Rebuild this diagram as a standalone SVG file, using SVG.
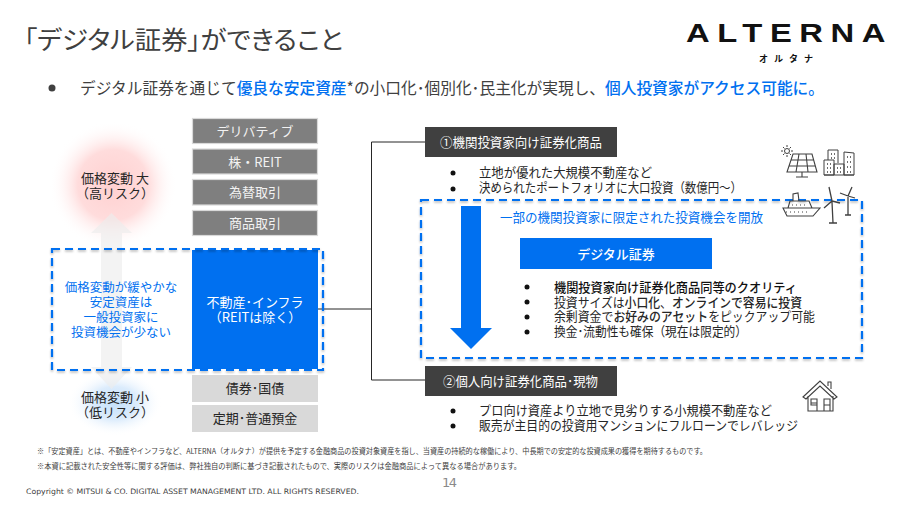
<svg xmlns="http://www.w3.org/2000/svg" width="900" height="506" viewBox="0 0 900 506">
<defs>
<style>
text{font-family:"Noto Sans CJK JP","Noto Sans",sans-serif;fill:#404040;font-size:13px}
.c{text-anchor:middle}
.b{fill:#0070f0}
.d{fill:#262626}
.w{fill:#fff}
.g{fill:#f2f2f2}
.dash{fill:none;stroke:#0070f0;stroke-width:2.2;stroke-dasharray:8 5;filter:url(#sh)}
.gb{fill:#7f7f7f;stroke:#d9d9d9;stroke-width:1.2}
.lb{fill:#d9d9d9}
.hd{fill:#404040}
.ic{fill:none;stroke:#404040;stroke-width:1}
.dot{fill:#111}
.con{fill:none;stroke:#262626;stroke-width:1}
</style>
<radialGradient id="red"><stop offset="0" stop-color="#ffd0d0"/><stop offset="0.55" stop-color="#ffdcdc"/><stop offset="1" stop-color="#fff" stop-opacity="0"/></radialGradient>
<radialGradient id="blue"><stop offset="0" stop-color="#c4e0fa"/><stop offset="0.5" stop-color="#dcecfc"/><stop offset="1" stop-color="#fff" stop-opacity="0"/></radialGradient>
<filter id="sh" x="-5%" y="-5%" width="110%" height="110%"><feDropShadow dx="0" dy="1.5" stdDeviation="1.2" flood-color="#000" flood-opacity="0.3"/></filter>
</defs>
<rect width="900" height="506" fill="#fff"/>
<g id="header">
<text x="24" y="49" style="font-size:25px;font-feature-settings:'palt'" textLength="319" lengthAdjust="spacingAndGlyphs">「デジタル証券」ができること</text>
<circle cx="52" cy="88" r="3.5" fill="#404040"/>
<text x="80" y="94" style="font-size:16px" textLength="744" lengthAdjust="spacingAndGlyphs">デジタル証券を通じて<tspan class="b" font-weight="500">優良な安定資産</tspan>*の小口化･個別化･民主化が実現し、<tspan class="b" font-weight="500">個人投資家がアクセス可能に。</tspan></text>
</g>
<g id="logo">
<text x="686" y="42" style="font-family:'Liberation Sans',sans-serif;font-size:26px;font-weight:700;fill:#111;letter-spacing:6px" textLength="207" lengthAdjust="spacingAndGlyphs">ALTERNA</text>
<text x="759" y="62" style="font-size:9px;font-weight:700;fill:#111" textLength="54" lengthAdjust="spacing">オルタナ</text>
</g>
<g id="risk-scale">
<circle cx="113" cy="185" r="64" fill="url(#red)"/>
<ellipse cx="115" cy="403" rx="47" ry="33" fill="url(#blue)"/>
<path d="M111.500 213L132 233H122V367H132L111.500 389L91 367H101V233H91Z" fill="#ececec" fill-opacity="0.65"/>
<text class="c d" x="115" y="183">価格変動 大</text>
<text class="c d" x="115" y="198">（高リスク）</text>
<text class="c d" x="115" y="402">価格変動 小</text>
<text class="c d" x="115" y="417">（低リスク）</text>
</g>
<g id="connectors">
<path class="con" d="M318 309H371M425 142H371.500V380H425"/>
</g>
<g id="asset-derivative"><rect class="gb" x="192.500" y="118.500" width="125" height="25"/><text class="c g" x="255" y="136">デリバティブ</text></g>
<g id="asset-stock"><rect class="gb" x="192.500" y="149" width="125" height="25"/><text class="c g" x="255" y="167">株・REIT</text></g>
<g id="asset-fx"><rect class="gb" x="192.500" y="179.500" width="125" height="25.500"/><text class="c g" x="255" y="197">為替取引</text></g>
<g id="asset-commodity"><rect class="gb" x="192.500" y="210.500" width="125" height="25"/><text class="c g" x="255" y="228">商品取引</text></g>
<g id="asset-realestate"><rect x="192" y="250" width="126" height="119" fill="#0070f0"/><text class="c w" x="255" y="307">不動産･インフラ</text><text class="c w" x="255" y="322">（REITは除く）</text></g>
<g id="asset-bond"><rect class="lb" x="192" y="375" width="126" height="27"/><text class="c d" x="255" y="393">債券･国債</text></g>
<g id="asset-deposit"><rect class="lb" x="192" y="405" width="126" height="27"/><text class="c d" x="255" y="423">定期･普通預金</text></g>
<g id="left-callout">
<rect class="dash" x="52" y="249" width="271" height="121"/>
<text class="c b" x="121" y="292" style="font-size:12.500px">価格変動が緩やかな</text>
<text class="c b" x="121" y="307" style="font-size:12.500px">安定資産は</text>
<text class="c b" x="121" y="322" style="font-size:12.500px">一般投資家に</text>
<text class="c b" x="121" y="337" style="font-size:12.500px">投資機会が少ない</text>
</g>
<g id="product-1">
<rect class="hd" x="425" y="127" width="192" height="30"/>
<text class="w" x="440" y="147" textLength="162" lengthAdjust="spacingAndGlyphs">①機関投資家向け証券化商品</text>
<circle class="dot" cx="453" cy="173" r="2.500"/><text class="d" x="479" y="177" textLength="173" lengthAdjust="spacingAndGlyphs">立地が優れた大規模不動産など</text>
<circle class="dot" cx="453" cy="189" r="2.500"/><text class="d" x="479" y="192" textLength="263" lengthAdjust="spacingAndGlyphs">決められたポートフォリオに大口投資（数億円～）</text>
</g>
<g id="opportunity">
<rect class="dash" x="421" y="200" width="441" height="158"/>
<path class="b" d="M461 206H481V328H492L471 349L450 328H461Z"/>
<text class="b" x="500" y="222" textLength="263" lengthAdjust="spacingAndGlyphs">一部の機関投資家に限定された投資機会を開放</text>
</g>
<g id="digital-security">
<rect x="520" y="238" width="192" height="31" fill="#0070f0"/>
<text class="w c" x="616" y="259" font-weight="500">デジタル証券</text>
<circle class="dot" cx="527" cy="287" r="2.500"/><text class="d" x="554" y="292" textLength="243" lengthAdjust="spacingAndGlyphs"><tspan fill="#111" font-weight="500">機関投資家向け証券化商品同等のクオリティ</tspan></text>
<circle class="dot" cx="527" cy="302" r="2.500"/><text class="d" x="554" y="307" textLength="248" lengthAdjust="spacingAndGlyphs">投資サイズは<tspan font-weight="500">小口化</tspan>、<tspan font-weight="500">オンラインで容易に投資</tspan></text>
<circle class="dot" cx="527" cy="317" r="2.500"/><text class="d" x="554" y="321" textLength="261" lengthAdjust="spacingAndGlyphs">余剰資金で<tspan font-weight="500">お好みのアセット</tspan>をピックアップ可能</text>
<circle class="dot" cx="527" cy="332" r="2.500"/><text class="d" x="554" y="336" textLength="193" lengthAdjust="spacingAndGlyphs">換金･流動性も確保（現在は限定的）</text>
</g>
<g id="product-2">
<rect class="hd" x="425" y="366" width="192" height="30"/>
<text class="w" x="443" y="386" textLength="155" lengthAdjust="spacingAndGlyphs">②個人向け証券化商品･現物</text>
<circle class="dot" cx="453" cy="411" r="2.500"/><text class="d" x="479" y="415" textLength="293" lengthAdjust="spacingAndGlyphs">プロ向け資産より立地で見劣りする小規模不動産など</text>
<circle class="dot" cx="453" cy="426" r="2.500"/><text class="d" x="479" y="430" textLength="319" lengthAdjust="spacingAndGlyphs">販売が主目的の投資用マンションにフルローンでレバレッジ</text>
</g>
<g id="icons">
<g class="ic">
<circle cx="787" cy="151" r="2.500"/><path d="M787 145v2M787 155v2M781 151h2M791 151h2M783 147l1.500 1.500M789.500 153.500l1.500 1.500M783 155l1.500-1.500M789.500 148.500l1.500-1.500"/>
<path d="M793 154H812L817 172H787ZM791 160H814M789 166H815.500M799 154L796 172M806 154L808 172M802 172V177M796 177H808" stroke-width="1.100"/>
<path d="M824 175V160H834V175ZM828 160V150H838V163M834 175V164H844V175M844 175V152L854 153V175ZM824 175H854"/>
<path d="M827 164h1M830 164h1M827 168h1M830 168h1M827 172h1M830 172h1M831 154h1M834 154h1M831 158h1M834 158h1M837 168h1M840 168h1M837 172h1M840 172h1M847 157h1M850 157h1M847 162h1M850 162h1M847 167h1M850 167h1M847 172h1M850 172h1" stroke-width="1.500"/>
<path d="M783 208H820L813 216H787ZM788 208L790 201H809L812 208M793 201V194L798 193L799 201M786 212h1M790 212h1M794 212h1M798 212h1M802 212h1M806 212h1M792 205h1M796 205h1M800 205h1M804 205h1" stroke-width="1.100"/>
<path d="M832 201L829 187M832 201L840 203M832 201L824 208M832 202L833 223M829 223H837M848 196L852 187M848 196L855 198M848 196L840 193M848 197V215M845 215H851" stroke-width="1.300"/>
<path d="M803 397L820 381L837 397L834 399L820 386L806 399ZM808 396V411H833V396M828 386V382H831V389M811 403H817V411M811 399H817V405H811ZM824 399H830V405H824ZM824 403V411H830V403" stroke-width="1.100"/>
</g>
</g>
<g id="footer">
<text x="37" y="454" style="font-size:7.500px;fill:#404040" textLength="670" lengthAdjust="spacingAndGlyphs">※「安定資産」とは、不動産やインフラなど、ALTERNA（オルタナ）が提供を予定する金融商品の投資対象資産を指し、当資産の持続的な稼働により、中長期での安定的な投資成果の獲得を期待するものです。</text>
<text x="37" y="469" style="font-size:7.500px;fill:#404040" textLength="484" lengthAdjust="spacingAndGlyphs">※本資に記載された安全性等に関する評価は、弊社独自の判断に基づき記載されたもので、実際のリスクは金融商品によって異なる場合があります。</text>
<text x="442" y="487" style="font-family:'DejaVu Sans',sans-serif;font-size:13px;fill:#8a8a8a" textLength="15">14</text>
<text x="26" y="494" style="font-family:'DejaVu Sans',sans-serif;font-size:7.500px;fill:#404040" textLength="333" lengthAdjust="spacingAndGlyphs">Copyright © MITSUI &amp; CO. DIGITAL ASSET MANAGEMENT LTD. ALL RIGHTS RESERVED.</text>
</g>
</svg>
